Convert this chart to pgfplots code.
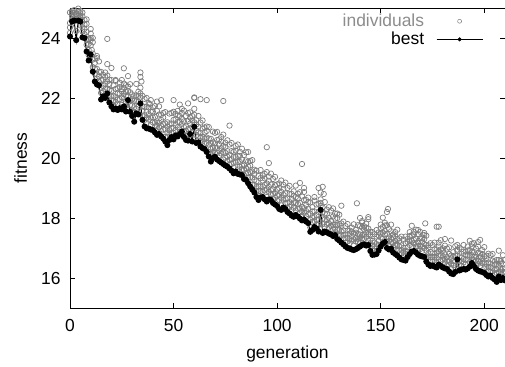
\documentclass[border=0pt]{standalone}
\usepackage{fontspec}
\setmainfont{Liberation Sans}
\usepackage{pgfplots}
\pgfplotsset{compat=1.18}
\usepackage{pgfplotstable}
\definecolor{indgray}{RGB}{125,125,125}
\definecolor{legray}{RGB}{140,140,140}

\pgfplotstableread{
g best a b c d
0 24.05 24.17 24.50 24.85 24.35
1 24.55 24.62 24.72 24.80 24.90
2 24.58 24.65 24.75 24.85 24.93
3 23.93 24.23 24.41 24.78 24.63
4 24.58 24.66 24.73 24.88 24.98
5 24.55 24.62 24.70 24.82 24.75
6 24.02 24.22 24.54 24.72 24.35
7 24.00 24.12 24.45 24.60 24.30
8 23.55 23.77 23.93 24.47 24.20
9 23.25 23.43 23.80 23.97 23.60
10 23.45 23.75 23.93 24.30 24.15
11 22.88 23.03 23.48 23.86 23.28
12 22.55 22.81 22.97 23.31 23.17
13 22.45 22.65 22.97 23.33 22.78
14 22.42 22.54 22.87 23.22 22.72
15 21.95 22.17 22.33 22.87 22.60
16 22.05 22.23 22.60 22.77 22.40
17 22.00 22.30 22.48 22.85 22.70
18 22.15 22.30 22.75 23.13 22.55
19 21.85 22.11 22.27 22.61 22.47
20 21.72 21.92 22.24 22.60 22.05
21 21.62 21.74 22.07 22.42 21.92
22 21.65 21.87 22.03 22.57 22.30
23 21.60 21.78 22.15 22.32 21.95
24 21.66 21.96 22.14 22.51 22.36
25 21.62 21.77 22.22 22.60 22.02
26 21.72 21.98 22.14 22.48 22.34
27 21.55 21.75 22.07 22.43 21.88
28 21.93 22.05 22.38 22.73 22.23
29 21.54 21.76 21.92 22.46 22.19
30 21.40 21.58 21.95 22.12 21.75
31 21.21 21.51 21.69 22.06 21.91
32 21.49 21.64 22.09 22.47 21.89
33 21.45 21.71 21.87 22.21 22.07
34 21.82 22.02 22.34 22.70 22.15
35 21.27 21.39 21.72 22.07 21.57
36 21.05 21.27 21.43 21.97 21.70
37 20.99 21.17 21.54 21.71 21.34
38 20.98 21.28 21.46 21.83 21.68
39 20.95 21.10 21.55 21.93 21.35
40 20.93 21.19 21.35 21.69 21.55
41 20.85 21.05 21.37 21.73 21.18
42 20.77 20.89 21.22 21.57 21.07
43 20.80 21.02 21.18 21.72 21.45
44 20.72 20.90 21.27 21.44 21.07
45 20.65 20.95 21.13 21.50 21.35
46 20.55 20.70 21.15 21.53 20.95
47 20.43 20.69 20.85 21.19 21.05
48 20.60 20.80 21.12 21.48 20.93
49 20.70 20.82 21.15 21.50 21.00
50 20.62 20.84 21.00 21.54 21.27
51 20.75 20.93 21.30 21.47 21.10
52 20.72 21.02 21.20 21.57 21.42
53 20.80 20.95 21.40 21.78 21.20
54 20.88 21.14 21.30 21.64 21.50
55 20.70 20.90 21.22 21.58 21.03
56 20.60 20.72 21.05 21.40 20.90
57 20.58 20.80 20.96 21.50 21.23
58 20.80 20.98 21.35 21.52 21.15
59 20.55 20.85 21.03 21.40 21.25
60 21.04 21.19 21.64 22.02 21.44
61 20.50 20.76 20.92 21.26 21.12
62 20.52 20.72 21.04 21.40 20.85
63 20.38 20.50 20.83 21.18 20.68
64 20.33 20.55 20.71 21.25 20.98
65 20.30 20.48 20.85 21.02 20.65
66 20.20 20.50 20.68 21.05 20.90
67 20.05 20.20 20.65 21.03 20.45
68 19.88 20.14 20.30 20.64 20.50
69 20.00 20.20 20.52 20.88 20.33
70 20.04 20.16 20.49 20.84 20.34
71 19.95 20.17 20.33 20.87 20.60
72 19.90 20.08 20.45 20.62 20.25
73 19.85 20.15 20.33 20.70 20.55
74 19.80 19.95 20.40 20.78 20.20
75 19.75 20.01 20.17 20.51 20.37
76 19.71 19.91 20.23 20.59 20.04
77 19.65 19.77 20.10 20.45 19.95
78 19.58 19.80 19.96 20.50 20.23
79 19.49 19.67 20.04 20.21 19.84
80 19.55 19.85 20.03 20.40 20.25
81 19.47 19.62 20.07 20.45 19.87
82 19.45 19.71 19.87 20.21 20.07
83 19.43 19.63 19.95 20.31 19.76
84 19.30 19.42 19.75 20.10 19.60
85 19.27 19.49 19.65 20.19 19.92
86 19.16 19.34 19.71 19.88 19.51
87 19.05 19.35 19.53 19.90 19.75
88 18.95 19.10 19.55 19.93 19.35
89 18.85 19.11 19.27 19.61 19.47
90 18.70 18.90 19.22 19.58 19.03
91 18.60 18.72 19.05 19.40 18.90
92 18.68 18.90 19.06 19.60 19.33
93 18.70 18.88 19.25 19.42 19.05
94 18.62 18.92 19.10 19.47 19.32
95 18.55 18.70 19.15 19.53 18.95
96 18.62 18.88 19.04 19.38 19.24
97 18.60 18.80 19.12 19.48 18.93
98 18.50 18.62 18.95 19.30 18.80
99 18.45 18.67 18.83 19.37 19.10
100 18.40 18.58 18.95 19.12 18.75
101 18.30 18.60 18.78 19.15 19.00
102 18.27 18.42 18.87 19.25 18.67
103 18.35 18.61 18.77 19.11 18.97
104 18.30 18.50 18.82 19.18 18.63
105 18.20 18.32 18.65 19.00 18.50
106 18.15 18.37 18.53 19.07 18.80
107 18.08 18.26 18.63 18.80 18.43
108 18.04 18.34 18.52 18.89 18.74
109 18.10 18.25 18.70 19.08 18.50
110 18.05 18.31 18.47 18.81 18.67
111 17.98 18.18 18.50 18.86 18.31
112 17.92 18.04 18.37 18.72 18.22
113 17.95 18.17 18.33 18.87 18.60
114 17.88 18.06 18.43 18.60 18.23
115 17.83 18.13 18.31 18.68 18.53
116 17.54 17.69 18.14 18.52 17.94
117 17.60 17.86 18.02 18.36 18.22
118 17.70 17.90 18.22 18.58 18.03
119 17.65 17.77 18.10 18.45 17.95
120 17.55 17.77 17.93 18.47 18.20
121 18.27 18.40 18.62 18.85 18.50
122 17.50 17.80 17.98 18.35 18.20
123 17.55 17.70 18.15 18.53 17.95
124 17.52 17.78 17.94 18.28 18.14
125 17.48 17.68 18.00 18.36 17.81
126 17.45 17.57 17.90 18.25 17.75
127 17.40 17.62 17.78 18.32 18.05
128 17.43 17.61 17.98 18.15 17.78
129 17.30 17.60 17.78 18.15 18.00
130 17.25 17.40 17.80 18.11 17.61
131 17.18 17.44 17.55 17.82 17.73
132 17.12 17.32 17.59 17.88 17.42
133 17.05 17.17 17.45 17.73 17.33
134 17.00 17.22 17.33 17.80 17.58
135 16.98 17.16 17.48 17.58 17.30
136 16.95 17.25 17.38 17.68 17.55
137 16.93 17.08 17.48 17.79 17.29
138 16.96 17.22 17.33 17.60 17.51
139 17.00 17.20 17.47 17.76 17.30
140 17.05 17.17 17.45 17.73 17.33
141 17.10 17.32 17.43 17.90 17.68
142 17.12 17.30 17.62 17.72 17.44
143 17.08 17.38 17.51 17.81 17.68
144 17.10 17.25 17.65 17.96 17.46
145 16.90 17.16 17.27 17.54 17.45
146 16.77 16.97 17.24 17.53 17.07
147 16.78 16.90 17.18 17.46 17.06
148 16.80 17.02 17.13 17.60 17.38
149 16.92 17.10 17.42 17.52 17.24
150 17.05 17.35 17.48 17.78 17.65
151 17.15 17.30 17.70 18.01 17.51
152 17.20 17.46 17.57 17.84 17.75
153 17.00 17.20 17.47 17.76 17.30
154 16.95 17.07 17.35 17.63 17.23
155 16.98 17.20 17.31 17.78 17.56
156 16.85 17.03 17.35 17.45 17.17
157 16.80 17.10 17.23 17.53 17.40
158 16.75 16.90 17.30 17.61 17.11
159 16.68 16.94 17.05 17.32 17.23
160 16.62 16.82 17.09 17.38 16.92
161 16.60 16.72 17.00 17.28 16.88
162 16.58 16.80 16.91 17.38 17.16
163 16.70 16.88 17.20 17.30 17.02
164 16.80 17.10 17.23 17.53 17.40
165 16.88 17.03 17.43 17.74 17.24
166 16.90 17.16 17.27 17.54 17.45
167 16.85 17.05 17.32 17.61 17.15
168 16.78 16.90 17.18 17.46 17.06
169 16.74 16.96 17.07 17.54 17.32
170 16.72 16.90 17.22 17.32 17.04
171 16.70 17.00 17.13 17.43 17.30
172 16.55 16.70 17.10 17.41 16.91
173 16.45 16.71 16.82 17.09 17.00
174 16.40 16.60 16.87 17.16 16.70
175 16.42 16.54 16.82 17.10 16.70
176 16.38 16.60 16.71 17.18 16.96
177 16.35 16.53 16.85 16.95 16.67
178 16.45 16.75 16.88 17.18 17.05
179 16.40 16.55 16.95 17.26 16.76
180 16.35 16.61 16.72 16.99 16.90
181 16.32 16.52 16.79 17.08 16.62
182 16.30 16.42 16.70 16.98 16.58
183 16.22 16.44 16.55 17.02 16.80
184 16.15 16.33 16.65 16.75 16.47
185 16.13 16.43 16.56 16.86 16.73
186 16.20 16.35 16.75 17.06 16.56
187 16.62 16.75 16.90 17.10 16.95
188 16.25 16.45 16.72 17.01 16.55
189 16.28 16.40 16.68 16.96 16.56
190 16.30 16.52 16.63 17.10 16.88
191 16.28 16.46 16.78 16.88 16.60
192 16.32 16.62 16.75 17.05 16.92
193 16.38 16.53 16.93 17.24 16.74
194 16.50 16.76 16.87 17.14 17.05
195 16.40 16.60 16.87 17.16 16.70
196 16.30 16.42 16.70 16.98 16.58
197 16.25 16.47 16.58 17.05 16.83
198 16.22 16.40 16.72 16.82 16.54
199 16.20 16.50 16.63 16.93 16.80
200 16.17 16.32 16.72 17.03 16.53
201 16.10 16.36 16.47 16.74 16.65
202 16.05 16.25 16.52 16.81 16.35
203 16.08 16.20 16.48 16.76 16.36
204 16.00 16.22 16.33 16.80 16.58
205 15.95 16.13 16.45 16.55 16.27
206 15.87 16.17 16.30 16.60 16.47
207 16.05 16.20 16.60 16.91 16.41
208 15.93 16.19 16.30 16.57 16.48
209 16.00 16.20 16.47 16.76 16.30
210 15.92 16.04 16.32 16.60 16.20
}\gens

\pgfplotstableread{
g y
1 24.85
3 24.80
5 24.90
6 24.85
8 24.62
9 23.95
10 24.00
11 24.00
10.5 23.60
13 23.40
18 23.97
20 23.00
22 22.60
25 22.30
26 22.99
27 22.20
34 22.85
34.5 22.55
37 22.00
38.5 21.80
42 21.88
44 21.93
50 21.93
57 21.82
60 22.00
63 21.96
66 21.93
74 21.90
77 21.08
86 20.20
95 20.36
96 19.83
111 19.17
112 19.80
113 19.00
118 18.70
120 19.00
122 19.04
122.5 18.80
131 18.41
138.5 18.49
140 18.00
141 17.85
144 18.03
153 18.20
153.5 18.30
168 17.60
171 17.50
171.5 17.82
177 17.71
178 17.71
181 17.30
184 17.25
197 17.20
198 17.27
}\outl

\begin{document}
\begin{tikzpicture}
\begin{axis}[
  scale only axis, width=435bp, height=300bp,
  xmin=0, xmax=210, ymin=15, ymax=25,
  xtick={0,50,100,150,200}, ytick={16,18,20,22,24},
  minor tick num=0,
  tick align=inside, major tick length=5bp,
  axis line style={line width=0.9bp},
  every tick/.style={black, line width=0.8bp},
  font=\fontsize{17.5}{21}\selectfont,
  /pgf/number format/assume math mode=true,
  xticklabel style={yshift=-8bp},
  yticklabel style={xshift=-6bp},
  xlabel={generation}, ylabel={fitness},
  xlabel style={at={(axis description cs:0.5,0)}, anchor=base, yshift=-50bp},
  ylabel style={at={(axis description cs:-0.0989,0.5)}, anchor=base},
  legend style={draw=none, fill=none, inner sep=0pt, at={(rel axis cs:1,1)}, anchor=north east,
    xshift=-21.7bp, yshift=-5bp, cells={anchor=east}, row sep=2bp, column sep=11bp,
    nodes={inner sep=1bp}, font=\fontsize{17.5}{21}\selectfont},
  legend plot pos=right,
]
\addlegendimage{legend image code/.code={\path[draw=none,fill=none] (0bp,-0.05bp) rectangle (46bp,0.05bp); \draw[indgray, fill=none, line width=0.5bp] (23bp,0bp) circle (2bp);}}
\addlegendentry{\textcolor{legray}{individuals}}
\addlegendimage{legend image code/.code={\draw[black, line width=1bp] (0bp,0bp) -- (46bp,0bp); \fill[black] (23bp,0bp) circle (1.8bp);}}
\addlegendentry{best}

\addplot[forget plot, only marks, mark=o, mark size=2.7bp, indgray, mark options={line width=0.7bp}] table[x=g, y=c] {\gens};
\addplot[forget plot, only marks, mark=o, mark size=2.7bp, indgray, mark options={line width=0.7bp}] table[x=g, y=b] {\gens};
\addplot[forget plot, only marks, mark=o, mark size=2.7bp, indgray, mark options={line width=0.7bp}] table[x=g, y=d] {\gens};
\addplot[forget plot, only marks, mark=o, mark size=2.7bp, indgray, mark options={line width=0.7bp}] table[x=g, y=a] {\gens};
\addplot[forget plot, only marks, mark=o, mark size=2.7bp, indgray, mark options={line width=0.7bp}] table[x=g, y=y] {\outl};
\addplot[forget plot, black, line width=1bp, mark=*, mark size=2.5bp] table[x=g, y=best] {\gens};
\end{axis}
\pgfresetboundingbox
\path[use as bounding box] ([xshift=-70bp,yshift=-59bp]current axis.south west) rectangle ([yshift=8bp]current axis.north east);
\end{tikzpicture}
\end{document}
